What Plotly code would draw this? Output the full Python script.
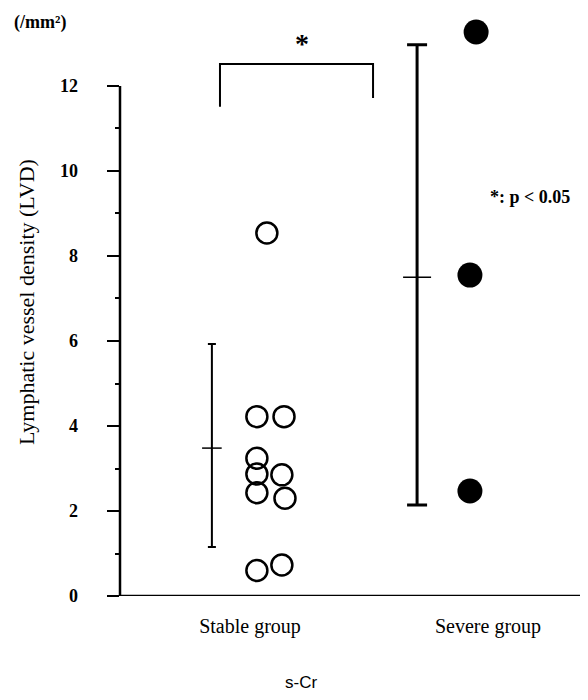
import plotly.graph_objects as go

# ---- data ----
groups = ["Stable group", "Severe group"]
stable_lvd = [8.54, 4.22, 4.22, 3.24, 2.87, 2.85, 2.43, 2.30, 0.60, 0.73]
severe_lvd = [13.27, 7.55, 2.47]
group_mean = [3.48, 7.50]
group_sd_upper = [2.45, 5.47]
group_sd_lower = [2.33, 5.36]
y_ticks = [0, 2, 4, 6, 8, 10, 12]
y_minor_ticks = [1, 3, 5, 7, 9, 11]

# ---- layout helpers (positions / style, not data) ----
stable_x = [1.071, 1.029, 1.143, 1.029, 1.029, 1.134, 1.029, 1.147, 1.029, 1.134]
severe_x = [1.950, 1.924, 1.924]
errbar_x = [0.840, 1.702]
bracket_x = [0.874, 1.517]
bracket_y = [11.51, 12.52, 11.72]
font_serif = "Liberation Serif, Times New Roman, serif"
Y_RANGE = [0, 13.835]
FIG_W, FIG_H = 580, 692
PLOT_LEFT = 112

fig = go.Figure()

fig.add_trace(go.Scatter(
    x=stable_x, y=stable_lvd, mode="markers", name=groups[0],
    marker=dict(symbol="circle-open", size=21, color="black", line=dict(width=2.5, color="black")),
    showlegend=False, cliponaxis=False))

fig.add_trace(go.Scatter(
    x=severe_x, y=severe_lvd, mode="markers", name=groups[1],
    marker=dict(symbol="circle", size=25, color="black"),
    showlegend=False, cliponaxis=False))

# mean ± SD bars
fig.add_trace(go.Scatter(
    x=[errbar_x[0]], y=[group_mean[0]], mode="markers",
    marker=dict(symbol="line-ew", size=14, line=dict(width=1.5, color="black")),
    error_y=dict(type="data", symmetric=False, array=[group_sd_upper[0]],
                 arrayminus=[group_sd_lower[0]], color="black", thickness=2, width=4),
    showlegend=False))
fig.add_trace(go.Scatter(
    x=[errbar_x[1]], y=[group_mean[1]], mode="markers",
    marker=dict(symbol="line-ew", size=20, line=dict(width=1.5, color="black")),
    error_y=dict(type="data", symmetric=False, array=[group_sd_upper[1]],
                 arrayminus=[group_sd_lower[1]], color="black", thickness=3, width=10),
    showlegend=False))

# axis lines
fig.add_shape(type="line", xref="x domain", yref="y", x0=0, x1=0, y0=0, y1=12,
              line=dict(color="black", width=2.5))
fig.add_shape(type="line", xref="x domain", yref="y", x0=0, x1=1, y0=0, y1=0,
              line=dict(color="black", width=2.5))

# significance bracket
fig.add_shape(type="path",
              path=f"M {bracket_x[0]},{bracket_y[0]} L {bracket_x[0]},{bracket_y[1]} "
                   f"L {bracket_x[1]},{bracket_y[1]} L {bracket_x[1]},{bracket_y[2]}",
              line=dict(color="black", width=2))

fig.add_annotation(x=1.22, y=13.0, text="<b>*</b>",
                   showarrow=False, font=dict(family=font_serif, size=28, color="black"))
fig.add_annotation(x=2.0, y=9.38, xanchor="left", text="<b>*: p &lt; 0.05</b>",
                   showarrow=False, font=dict(family=font_serif, size=18, color="black"))
fig.add_annotation(xref="paper", yref="paper", x=4 / FIG_W, y=0.976, xanchor="left",
                   yanchor="middle", text="<b>(/mm²)</b>", showarrow=False,
                   font=dict(family=font_serif, size=18, color="black"))
fig.add_annotation(x=1.214, yref="paper", y=-0.167, text="s-Cr", showarrow=False,
                   font=dict(family="Liberation Sans, Arial, sans-serif", size=17, color="black"))

# invisible carrier so the label axis is drawn
fig.add_trace(go.Scatter(x=[None], y=[None], yaxis="y2", showlegend=False, hoverinfo="skip"))

fig.update_layout(
    width=FIG_W, height=FIG_H,
    margin=dict(l=0, r=0, t=0, b=104, autoexpand=False),
    plot_bgcolor="white", paper_bgcolor="white",
    xaxis=dict(domain=[PLOT_LEFT / FIG_W, 1], range=[0.454, 2.42], tickvals=[1, 2],
               ticktext=groups, showgrid=False, zeroline=False, showline=False, ticks="",
               ticklabelstandoff=16,
               tickfont=dict(family=font_serif, size=20, color="black")),
    yaxis=dict(range=Y_RANGE, tickvals=y_ticks, showgrid=False, zeroline=False,
               showline=False, ticks="outside", ticklen=12, tickwidth=2, tickcolor="black",
               showticklabels=False,
               minor=dict(tickvals=y_minor_ticks, ticks="outside", ticklen=4, tickwidth=2,
                          tickcolor="black", showgrid=False)),
    yaxis2=dict(overlaying="y", anchor="free", position=70 / FIG_W, side="left",
                range=Y_RANGE, tickvals=y_ticks, showgrid=False, zeroline=False,
                showline=False, ticks="",
                tickfont=dict(family=font_serif, size=18, color="black", weight="bold"),
                title=dict(text="Lymphatic vessel density (LVD)", standoff=18,
                           font=dict(family=font_serif, size=22, color="black"))),
)

fig.write_html("out.html")
